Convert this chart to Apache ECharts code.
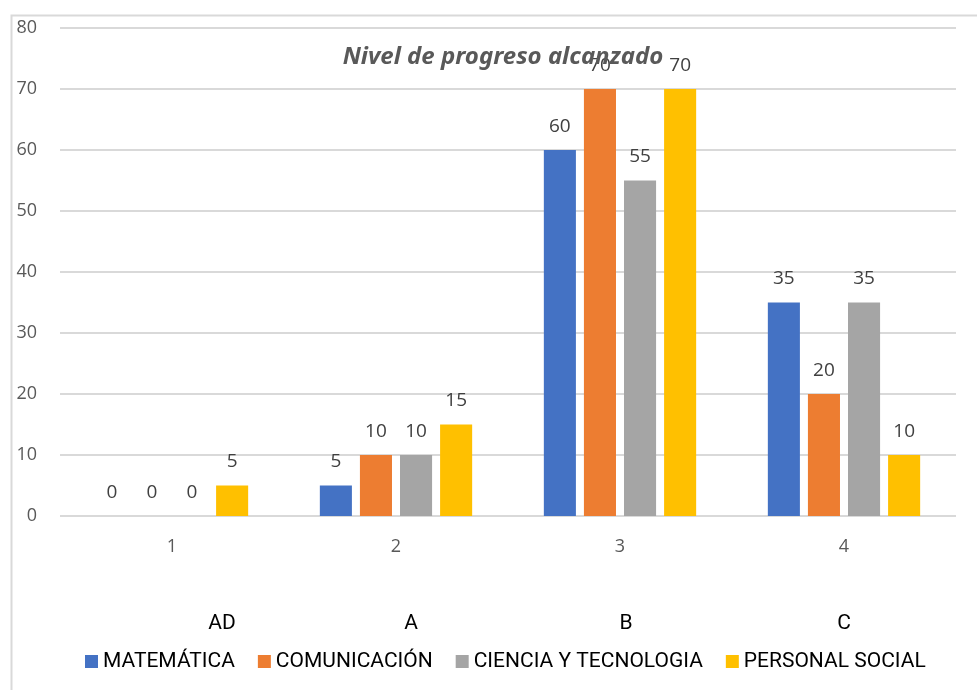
<!DOCTYPE html>
<html>
<head>
<meta charset="utf-8">
<style>
  html, body { margin: 0; padding: 0; background: #fff; }
  #chart { width: 977px; height: 690px; }
</style>
<script src="https://cdn.jsdelivr.net/npm/echarts@6/dist/echarts.min.js"></script>
</head>
<body>
<div id="chart"></div>
<script>
const categories = ["1", "2", "3", "4"];
const levels = ["AD", "A", "B", "C"];
const matematica = [0, 5, 60, 35];
const comunicacion = [0, 10, 70, 20];
const ciencia = [0, 10, 55, 35];
const personal = [5, 15, 70, 10];
const seriesNames = ["MATEMÁTICA", "COMUNICACIÓN", "CIENCIA Y TECNOLOGIA", "PERSONAL SOCIAL"];
const colors = ["#4472C4", "#ED7D31", "#A5A5A5", "#FFC000"];

const numFont = "'Open Sans', 'Noto Sans', sans-serif";
const narrowFont = "Roboto, 'Liberation Sans', sans-serif";

// small per-label nudges for the second row (AD, A, B, C)
const levelShift = { AD: 50, A: 15, B: 6, C: 0 };

const chart = echarts.init(document.getElementById("chart"));

const makeSeries = (name, data, color) => ({
  name: name,
  type: "bar",
  data: data,
  barGap: "25%",
  barCategoryGap: "32%",
  itemStyle: { color: color },
  label: {
    show: true,
    position: "top",
    distance: 14,
    color: "#404040",
    fontFamily: numFont,
    fontSize: 19
  }
});

chart.setOption({
  animation: false,
  backgroundColor: "#fff",
  title: {
    text: "Nivel de progreso alcanzado",
    left: 498,
    textAlign: "center",
    top: 40,
    textStyle: {
      fontFamily: "'Noto Sans', sans-serif",
      fontStyle: "italic",
      fontWeight: "bold",
      fontSize: 24,
      color: "#595959"
    }
  },
  graphic: [
    {
      type: "rect",
      left: 9,
      top: 13,
      shape: { width: 1000, height: 700 },
      style: { fill: "none", stroke: "#d9d9d9", lineWidth: 2 },
      silent: true
    }
  ],
  legend: {
    data: seriesNames,
    left: 80,
    top: 646,
    width: 900,
    itemWidth: 13,
    itemHeight: 13,
    itemGap: 23,
    icon: "rect",
    textStyle: {
      fontFamily: narrowFont,
      fontSize: 21,
      color: "#000"
    }
  },
  grid: { left: 60, right: 21, top: 28, bottom: 174 },
  xAxis: [
    {
      type: "category",
      data: categories,
      axisLine: { show: false },
      axisTick: { show: false },
      axisLabel: {
        margin: 22,
        color: "#595959",
        fontFamily: numFont,
        fontSize: 18
      }
    },
    {
      type: "category",
      position: "bottom",
      offset: 97,
      data: levels,
      axisLine: { show: false },
      axisTick: { show: false },
      axisLabel: {
        margin: 0,
        formatter: (v) => "{s" + v + "|" + v + "}",
        rich: Object.fromEntries(levels.map((l) => [
          "s" + l,
          {
            fontFamily: narrowFont,
            fontSize: 21,
            color: "#000",
            padding: [0, 0, 0, levelShift[l] * 2]
          }
        ]))
      }
    }
  ],
  yAxis: {
    type: "value",
    min: 0,
    max: 80,
    interval: 10,
    axisLine: { show: false },
    axisTick: { show: false },
    splitLine: { lineStyle: { color: "#d9d9d9", width: 2 } },
    axisLabel: {
      margin: 23,
      color: "#595959",
      fontFamily: numFont,
      fontSize: 18
    }
  },
  series: [
    makeSeries(seriesNames[0], matematica, colors[0]),
    makeSeries(seriesNames[1], comunicacion, colors[1]),
    makeSeries(seriesNames[2], ciencia, colors[2]),
    makeSeries(seriesNames[3], personal, colors[3])
  ]
});
</script>
</body>
</html>
